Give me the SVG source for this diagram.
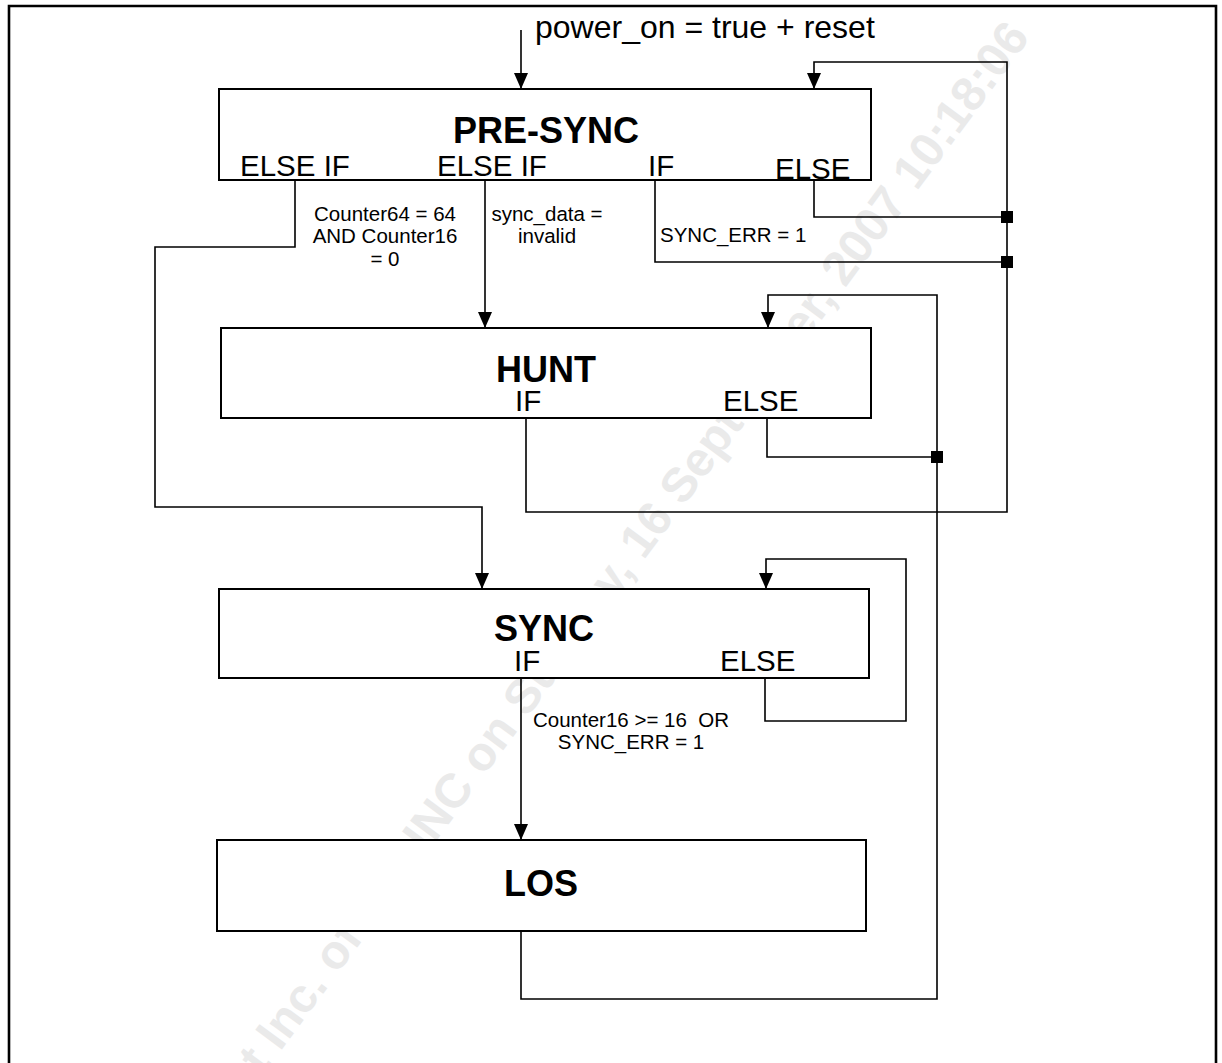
<svg xmlns="http://www.w3.org/2000/svg" width="1222" height="1063" viewBox="0 0 1222 1063">
<style>
.box{fill:#fff;stroke:#000;stroke-width:2}
.con{fill:none;stroke:#000;stroke-width:1.6}
.t{font-family:"Liberation Sans",Arial,sans-serif;fill:#000}
.title{font-size:36px;font-weight:bold;text-anchor:middle}
.lbl{font-size:29.5px}
.cond{font-size:20.5px;white-space:pre}
.mid{text-anchor:middle}
.wm{font-family:"Liberation Sans",Arial,sans-serif;font-size:48px;font-weight:bold;fill:#eaeaea}
</style>
<defs>
<marker id="arr" markerUnits="userSpaceOnUse" markerWidth="17" markerHeight="15" refX="16" refY="7" orient="auto">
<path d="M0,0 L16,7 L0,14 Z" fill="#000"/>
</marker>
</defs>
<rect width="1222" height="1063" fill="#fff"/>
<g id="watermark" transform="translate(648 526) rotate(-53.5)">
<text class="wm" x="-671" y="17">t Inc. of</text>
<text class="wm" x="-395" y="17">INC on Sunday, 16 September, 2007 10:18:06</text>
</g>
<path id="frame" d="M9,1070 V6 H1216 V1070" fill="none" stroke="#000" stroke-width="2.6"/>
<g id="connectors">
<path class="con" d="M521,30 V89" marker-end="url(#arr)"/>
<path class="con" d="M295,180 V247 H155 V507 H482 V589" marker-end="url(#arr)"/>
<path class="con" d="M485,180 V328" marker-end="url(#arr)"/>
<path class="con" d="M655,180 V262 H1007"/>
<path class="con" d="M814,180 V217 H1007"/>
<path class="con" d="M526,418 V512 H1007 V62 H814 V89" marker-end="url(#arr)"/>
<path class="con" d="M767,418 V457 H937"/>
<path class="con" d="M521,931 V999 H937 V295 H768 V328" marker-end="url(#arr)"/>
<path class="con" d="M521,678 V840" marker-end="url(#arr)"/>
<path class="con" d="M765,678 V721 H906 V559 H766 V589" marker-end="url(#arr)"/>
<rect x="1001" y="211" width="12" height="12" fill="#000"/>
<rect x="1001" y="256" width="12" height="12" fill="#000"/>
<rect x="931" y="451" width="12" height="12" fill="#000"/>
<text class="t" x="535" y="38" font-size="32">power_on = true + reset</text>
<text class="t cond mid" x="385" y="221">Counter64 = 64</text>
<text class="t cond mid" x="385" y="243">AND Counter16</text>
<text class="t cond mid" x="385" y="266">= 0</text>
<text class="t cond mid" x="547" y="221">sync_data =</text>
<text class="t cond mid" x="547" y="243">invalid</text>
<text class="t cond" x="660" y="242">SYNC_ERR = 1</text>
<text class="t cond mid" x="631" y="727">Counter16 &gt;= 16  OR</text>
<text class="t cond mid" x="631" y="749">SYNC_ERR = 1</text>
</g>
<g id="node-presync">
<rect class="box" x="219" y="89" width="652" height="91"/>
<text class="t title" x="546" y="143">PRE-SYNC</text>
<text class="t lbl" x="240" y="176">ELSE IF</text>
<text class="t lbl" x="437" y="176">ELSE IF</text>
<text class="t lbl" x="648" y="176">IF</text>
<text class="t lbl" x="775" y="179">ELSE</text>
</g>
<g id="node-hunt">
<rect class="box" x="221" y="328" width="650" height="90"/>
<text class="t title" x="546" y="382">HUNT</text>
<text class="t lbl" x="515" y="411">IF</text>
<text class="t lbl" x="723" y="411">ELSE</text>
</g>
<g id="node-sync">
<rect class="box" x="219" y="589" width="650" height="89"/>
<text class="t title" x="544" y="641">SYNC</text>
<text class="t lbl" x="514" y="671">IF</text>
<text class="t lbl" x="720" y="671">ELSE</text>
</g>
<g id="node-los">
<rect class="box" x="217" y="840" width="649" height="91"/>
<text class="t title" x="541" y="896">LOS</text>
</g>
</svg>
